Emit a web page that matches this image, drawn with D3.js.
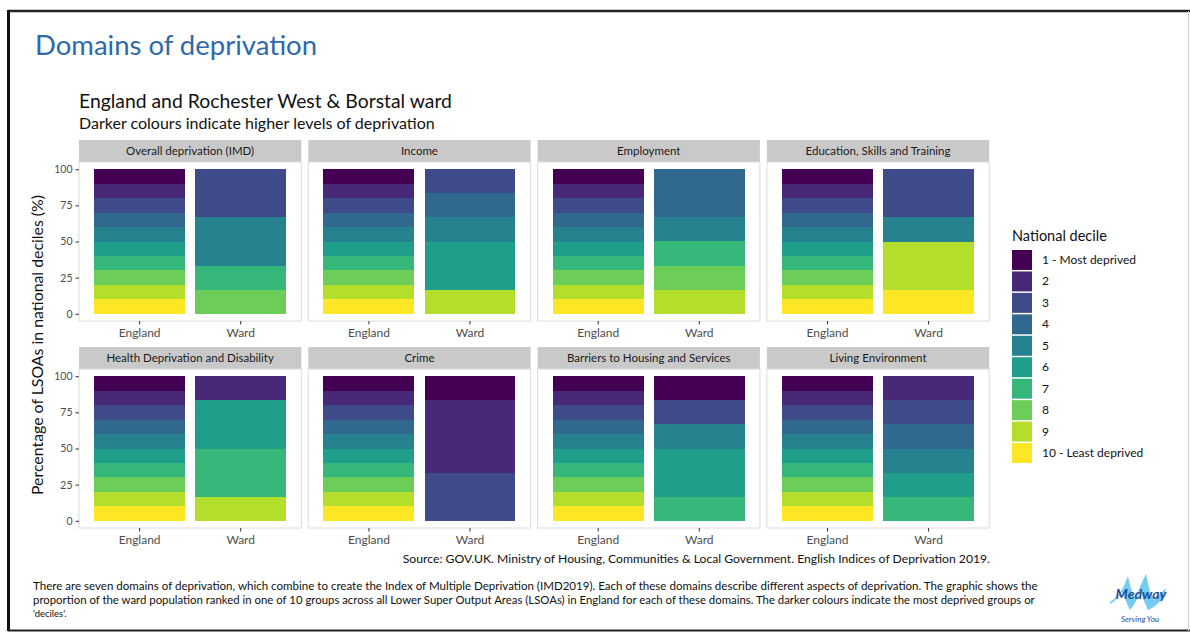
<!DOCTYPE html>
<html>
<head>
<meta charset="utf-8">
<script src="https://cdn.jsdelivr.net/npm/d3@7"></script>
<style>
  html, body { margin: 0; padding: 0; background: #fff; }
  svg { display: block; }
  text { font-family: Lato, "Open Sans", sans-serif; }
</style>
</head>
<body>
<svg id="chart" width="1190" height="632"></svg>
<script>
// ---------------- data ----------------
const domains = [
  "Overall deprivation (IMD)", "Income", "Employment", "Education, Skills and Training",
  "Health Deprivation and Disability", "Crime", "Barriers to Housing and Services", "Living Environment"
];
const areas = ["England", "Ward"];
const decileLabels = ["1 - Most deprived", "2", "3", "4", "5", "6", "7", "8", "9", "10 - Least deprived"];
const yTicks = [0, 25, 50, 75, 100];
const palette = ["#440154", "#482878", "#3E4A89", "#31688E", "#26828E", "#1F9E89", "#35B779", "#6DCD59", "#B4DE2C", "#FDE725"];

// % of LSOAs in each national decile (1 .. 10)
const englandShare   = [10, 10, 10, 10, 10, 10, 10, 10, 10, 10];
const wardIMD        = [0, 0, 33.33, 0, 33.33, 0, 16.67, 16.67, 0, 0];
const wardIncome     = [0, 0, 16.67, 16.67, 16.67, 33.33, 0, 0, 16.67, 0];
const wardEmployment = [0, 0, 0, 33.33, 16.67, 0, 16.67, 16.67, 16.67, 0];
const wardEducation  = [0, 0, 33.33, 0, 16.67, 0, 0, 0, 33.33, 16.67];
const wardHealth     = [0, 16.67, 0, 0, 0, 33.33, 33.33, 0, 16.67, 0];
const wardCrime      = [16.67, 50, 33.33, 0, 0, 0, 0, 0, 0, 0];
const wardBarriers   = [16.67, 0, 16.67, 0, 16.67, 33.33, 16.67, 0, 0, 0];
const wardLiving     = [0, 16.66, 16.67, 16.67, 16.67, 16.67, 16.66, 0, 0, 0];
const wardSeries = [wardIMD, wardIncome, wardEmployment, wardEducation, wardHealth, wardCrime, wardBarriers, wardLiving];

const titleText = "Domains of deprivation";
const subtitleText = "England and Rochester West & Borstal ward";
const subtitle2Text = "Darker colours indicate higher levels of deprivation";
const yTitleText = "Percentage of LSOAs in national deciles (%)";
const legendTitleText = "National decile";
const sourceText = "Source: GOV.UK. Ministry of Housing, Communities & Local Government. English Indices of Deprivation 2019.";
const footerLines = [
  "There are seven domains of deprivation, which combine to create the Index of Multiple Deprivation (IMD2019). Each of these domains describe different aspects of deprivation. The graphic shows the",
  "proportion of the ward population ranked in one of 10 groups across all Lower Super Output Areas (LSOAs) in England for each of these domains. The darker colours indicate the most deprived groups or",
  "'deciles'."
];

// ---------------- helpers ----------------
const svg = d3.select("#chart");
svg.append("rect").attr("width", 1190).attr("height", 632).attr("fill", "#fff");

function fit(sel, width) {
  const n = sel.node();
  const fs = parseFloat(sel.attr("font-size"));
  const w = n.getComputedTextLength();
  if (w > 0) sel.attr("font-size", (fs * width / w).toFixed(2));
  return sel;
}

// slide frame
svg.append("line").attr("x1", 8).attr("x2", 1190).attr("y1", 11).attr("y2", 11).attr("stroke", "#222").attr("stroke-width", 2.5);
svg.append("line").attr("x1", 8.5).attr("x2", 8.5).attr("y1", 10).attr("y2", 631).attr("stroke", "#111").attr("stroke-width", 3);
svg.append("line").attr("x1", 8).attr("x2", 1190).attr("y1", 630.5).attr("y2", 630.5).attr("stroke", "#222").attr("stroke-width", 2);
svg.append("line").attr("x1", 1188.5).attr("x2", 1188.5).attr("y1", 11).attr("y2", 631).attr("stroke", "#d0d0d0").attr("stroke-width", 1);

// titles
fit(svg.append("text").attr("x", 35).attr("y", 55).attr("font-size", 28).attr("fill", "#2E69AE").text(titleText), 282);
fit(svg.append("text").attr("x", 79).attr("y", 108).attr("font-size", 17).attr("fill", "#111").text(subtitleText), 373);
fit(svg.append("text").attr("x", 79).attr("y", 128.5).attr("font-size", 14).attr("fill", "#111").text(subtitle2Text), 356);

// ---------------- facets ----------------
const colLeft = 79, colStep = 229.3, panelW = 222.3;
const rowTop = [140, 347], stripH = 22, panelH = 159;

const x = d3.scaleBand().domain(areas).range([0, panelW]).paddingInner(0.1).paddingOuter(0.15);
const y = d3.scaleLinear().domain([-5, 105]).range([panelH, 0]);
const color = d3.scaleOrdinal().domain(d3.range(10)).range(palette);

const keys = d3.range(9, -1, -1); // decile 10 at the bottom, decile 1 on top

domains.forEach((name, i) => {
  const col = i % 4, row = Math.floor(i / 4);
  const gx = colLeft + col * colStep, gy = rowTop[row];
  const g = svg.append("g").attr("transform", `translate(${gx},${gy})`);

  // strip
  g.append("rect").attr("width", panelW).attr("height", stripH).attr("fill", "#C9C9C9");
  g.append("text").attr("x", panelW / 2).attr("y", stripH / 2 + 4).attr("text-anchor", "middle")
    .attr("font-size", 11.5).attr("fill", "#1A1A1A").text(name);

  const p = g.append("g").attr("transform", `translate(0,${stripH})`);
  p.append("rect").attr("width", panelW).attr("height", panelH).attr("fill", "#fff")
    .attr("stroke", "#DCDCDC").attr("stroke-width", 1);

  const rows = [englandShare, wardSeries[i]].map((vals, j) => {
    const o = { area: areas[j] };
    vals.forEach((v, k) => o[k] = v);
    return o;
  });
  const stacked = d3.stack().keys(keys)(rows);
  p.selectAll("g.layer").data(stacked).join("g").attr("class", "layer")
    .attr("fill", d => color(d.key))
    .selectAll("rect").data(d => d.filter(s => s[1] - s[0] > 0)).join("rect")
    .attr("shape-rendering", "crispEdges")
    .attr("x", d => x(d.data.area))
    .attr("width", x.bandwidth())
    .attr("y", d => y(d[1]))
    .attr("height", d => Math.max(0, y(d[0]) - y(d[1])));

  // x axis
  const xa = p.append("g").attr("transform", `translate(0,${panelH})`)
    .call(d3.axisBottom(x).tickSize(3.5).tickPadding(4));
  xa.select(".domain").remove();
  xa.selectAll(".tick line").attr("stroke", "#333");
  xa.selectAll(".tick text").attr("font-size", 12).attr("fill", "#4D4D4D").attr("font-family", "Lato, sans-serif");

  // y axis on first column only
  if (col === 0) {
    const ya = p.append("g").call(d3.axisLeft(y).tickValues(yTicks).tickSize(3.5).tickPadding(3));
    ya.select(".domain").remove();
    ya.selectAll(".tick line").attr("stroke", "#333");
    ya.selectAll(".tick text").attr("font-size", 10.5).attr("fill", "#4D4D4D").attr("font-family", "Lato, sans-serif");
  }
});

// y axis title
const yMid = (rowTop[0] + stripH + rowTop[1] + stripH + panelH) / 2;
fit(svg.append("text").attr("transform", `translate(43,${yMid}) rotate(-90)`).attr("text-anchor", "middle")
  .attr("font-size", 14).attr("fill", "#111").text(yTitleText), 300);

// source
fit(svg.append("text").attr("x", 990).attr("y", 563).attr("text-anchor", "end")
  .attr("font-size", 11.5).attr("fill", "#111").text(sourceText), 588);

// ---------------- legend ----------------
const lg = svg.append("g").attr("transform", "translate(1012,0)");
lg.append("text").attr("x", 0).attr("y", 241).attr("font-size", 14.5).attr("fill", "#111").text(legendTitleText);
const ly = d3.scaleBand().domain(d3.range(10)).range([250, 463]).paddingInner(0.07);
lg.selectAll("rect.key").data(d3.range(10)).join("rect").attr("class", "key")
  .attr("x", 0).attr("width", 20).attr("y", d => ly(d)).attr("height", ly.bandwidth())
  .attr("fill", d => color(d));
lg.selectAll("text.klabel").data(decileLabels).join("text").attr("class", "klabel")
  .attr("x", 30).attr("y", (d, k) => ly(k) + ly.bandwidth() / 2 + 4)
  .attr("font-size", 12).attr("fill", "#111").text(d => d);

// ---------------- footer ----------------
footerLines.forEach((t, k) => {
  const s = svg.append("text").attr("x", 33).attr("y", 590 + k * 13.5).attr("font-size", 9.5).attr("fill", "#111").text(t);
  if (k === 0) fit(s, 1005);
  if (k === 1) fit(s, 1002);
});

// ---------------- logo ----------------
const logo = svg.append("g").attr("transform", "translate(1108,572)");
logo.append("path")
  .attr("d", "M2,30 C8,26 12,22 16,14 L20,4 C22,14 24,22 28,26 C30,18 34,10 38,2 C40,12 42,22 46,28 C50,24 54,20 58,16 L56,24 C52,30 46,36 40,38 C36,30 34,24 32,18 C30,26 26,34 22,38 C18,30 16,24 14,20 C10,26 6,30 2,32 Z")
  .attr("fill", "#5CC3EE").attr("opacity", 0.85);
logo.append("text").attr("x", 33).attr("y", 27).attr("text-anchor", "middle").attr("font-family", "DejaVu Serif, serif")
  .attr("font-style", "italic").attr("font-weight", "bold").attr("font-size", 14).attr("fill", "#1F4E96").text("Medway");
logo.append("text").attr("x", 32).attr("y", 50).attr("text-anchor", "middle").attr("font-family", "DejaVu Serif, serif")
  .attr("font-style", "italic").attr("font-size", 8).attr("fill", "#1F4E96").text("Serving You");
</script>
</body>
</html>
